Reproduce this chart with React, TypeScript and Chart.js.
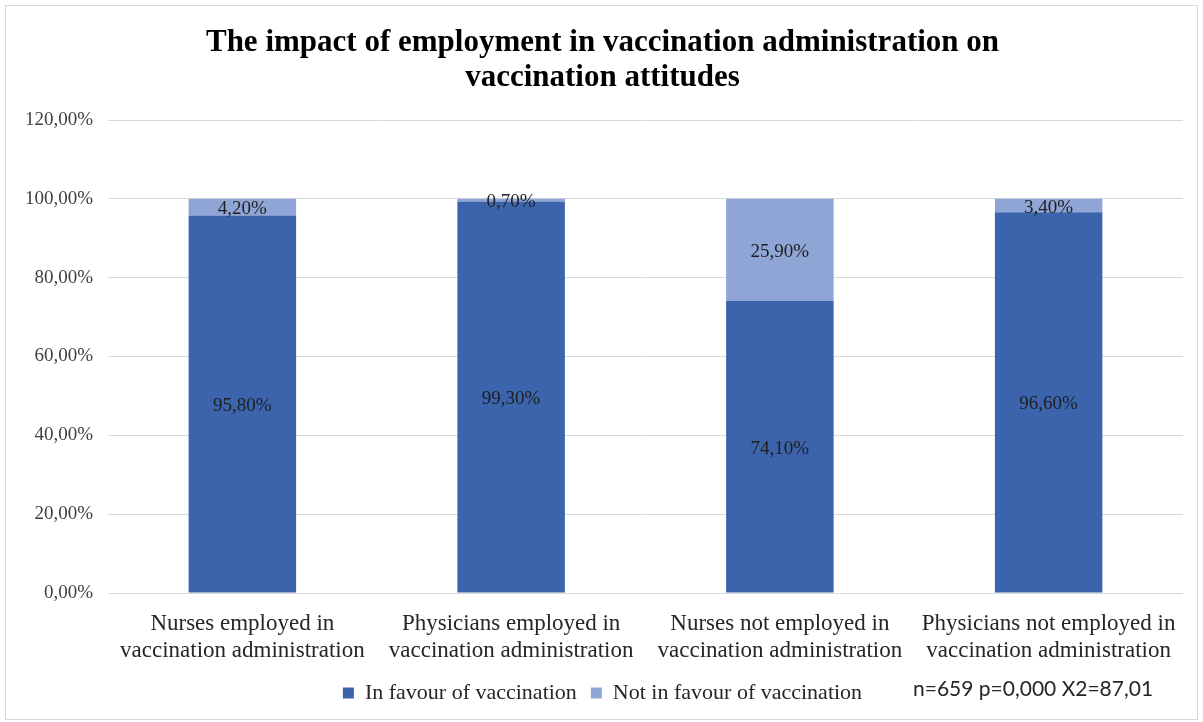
import React, { useEffect, useRef } from "react";
import { Chart, registerables } from "chart.js";

Chart.register(...registerables);

// Categories (two-line labels) and stacked series values, in percent
const categories: string[][] = [
  ["Nurses employed in", "vaccination administration"],
  ["Physicians employed in", "vaccination administration"],
  ["Nurses not employed in", "vaccination administration"],
  ["Physicians not employed in", "vaccination administration"],
];
const inFavour: number[] = [95.8, 99.3, 74.1, 96.6];
const notInFavour: number[] = [4.2, 0.7, 25.9, 3.4];

const seriesNames: string[] = ["In favour of vaccination", "Not in favour of vaccination"];
const titleLines: string[] = [
  "The impact of employment in vaccination administration on",
  "vaccination attitudes",
];
const statsNote = "n=659 p=0,000 X2=87,01";

const yMin = 0;
const yMax = 120;
const yStep = 20;

const SERIF = "'Liberation Serif', 'Times New Roman', serif";
const fmtPct = (v: number) => v.toFixed(2).replace(".", ",") + "%";

// Frame around the whole figure
const framePlugin = {
  id: "frame",
  beforeDraw(chart: Chart) {
    const { ctx, width, height } = chart;
    ctx.save();
    ctx.fillStyle = "#ffffff";
    ctx.fillRect(0, 0, width, height);
    ctx.strokeStyle = "#d9d9d9";
    ctx.lineWidth = 1;
    ctx.strokeRect(5.5, 5.5, width - 11, height - 8);
    ctx.restore();
  },
};

// Value labels centred in each stacked segment
const valueLabelPlugin = {
  id: "valueLabels",
  afterDatasetsDraw(chart: Chart) {
    const { ctx } = chart;
    ctx.save();
    ctx.font = `19px ${SERIF}`;
    ctx.fillStyle = "#1f1f1f";
    ctx.textAlign = "center";
    ctx.textBaseline = "middle";
    chart.data.datasets.forEach((ds, di) => {
      const meta = chart.getDatasetMeta(di);
      meta.data.forEach((el: any, i: number) => {
        const v = ds.data[i] as number;
        const cy = (el.y + el.base) / 2 + 2;
        ctx.fillText(fmtPct(v), el.x, cy);
      });
    });
    ctx.restore();
  },
};

// Statistics note beside the legend
const notePlugin = {
  id: "statsNote",
  afterDraw(chart: Chart) {
    const { ctx } = chart;
    ctx.save();
    ctx.font = "21px Lato, 'Liberation Sans', sans-serif";
    ctx.fillStyle = "#262626";
    ctx.textAlign = "left";
    ctx.textBaseline = "middle";
    ctx.fillText(statsNote, 913, 689);
    ctx.restore();
  },
};

export default function App() {
  const canvasRef = useRef<HTMLCanvasElement | null>(null);

  useEffect(() => {
    if (!canvasRef.current) return;
    const chart = new Chart(canvasRef.current, {
      type: "bar",
      data: {
        labels: categories,
        datasets: [
          {
            label: seriesNames[0],
            data: inFavour,
            backgroundColor: "#3b64ad",
            categoryPercentage: 1,
            barPercentage: 0.4,
          },
          {
            label: seriesNames[1],
            data: notInFavour,
            backgroundColor: "#8ea5d6",
            categoryPercentage: 1,
            barPercentage: 0.4,
          },
        ],
      },
      options: {
        animation: false,
        responsive: false,
        maintainAspectRatio: false,
        layout: { padding: { top: 8, left: 22, right: 20, bottom: 8 } },
        plugins: {
          title: {
            display: true,
            text: titleLines,
            color: "#000000",
            font: { family: SERIF, size: 31, weight: "bold", lineHeight: 35 / 31 },
            padding: { top: 17.5, bottom: 24.5 },
          },
          legend: {
            position: "bottom",
            labels: {
              boxWidth: 11,
              boxHeight: 11,
              padding: 14,
              color: "#262626",
              font: { family: SERIF, size: 22 },
            },
          },
          tooltip: { enabled: false },
        },
        scales: {
          x: {
            stacked: true,
            grid: { display: false },
            border: { display: false },
            ticks: {
              color: "#262626",
              font: { family: SERIF, size: 23, lineHeight: 27 / 23 },
              padding: 9,
              maxRotation: 0,
              autoSkip: false,
            },
            afterFit(scale: any) {
              scale.height = 75;
            },
          },
          y: {
            stacked: true,
            min: yMin,
            max: yMax,
            grid: { color: "#d9d9d9", lineWidth: 1, drawTicks: false },
            border: { display: false },
            ticks: {
              stepSize: yStep,
              padding: 15,
              color: "#404040",
              font: { family: SERIF, size: 19 },
              callback: (v: any) => fmtPct(Number(v)),
            },
            afterFit(scale: any) {
              scale.width = 86;
            },
          },
        },
      },
      plugins: [framePlugin, valueLabelPlugin, notePlugin],
    });
    return () => chart.destroy();
  }, []);

  return (
    <div style={{ position: "absolute", left: 0, top: 0, width: 1203, height: 722 }}>
      <canvas ref={canvasRef} width={1203} height={722} style={{ display: "block" }} />
    </div>
  );
}
